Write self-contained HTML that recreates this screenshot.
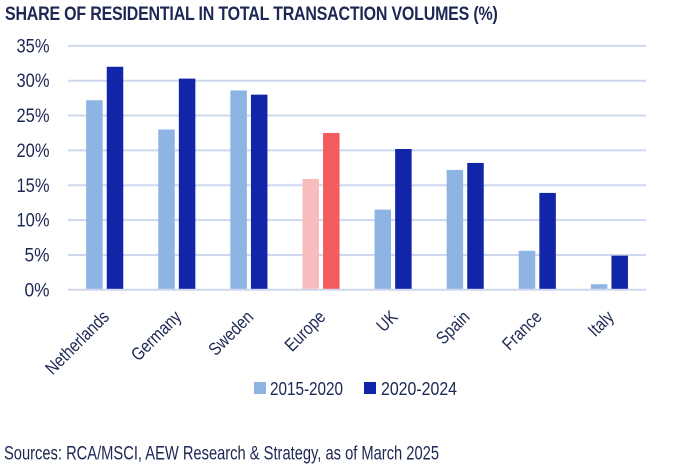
<!DOCTYPE html>
<html lang="en">
<head>
<meta charset="utf-8">
<title>Share of residential in total transaction volumes</title>
<style>
html,body{margin:0;padding:0;background:#fff;width:673px;height:474px;overflow:hidden}
svg{display:block}
text{font-family:"Liberation Sans",sans-serif;fill:#1d2753}
</style>
</head>
<body>
<svg id="chart" xmlns="http://www.w3.org/2000/svg" width="673" height="474" viewBox="0 0 673 474">
<text transform="translate(5 20) scale(0.82 1)" font-size="19.5" font-weight="700" textLength="601" lengthAdjust="spacing">SHARE OF RESIDENTIAL IN TOTAL TRANSACTION VOLUMES (%)</text>
<g id="grid"></g>
<g id="ylabels"></g>
<g id="bars"></g>
<g id="xlabels"></g>
<rect x="254" y="382" width="12" height="12" fill="#8db4e2"/>
<text x="270" y="395" font-size="18.5" textLength="73" lengthAdjust="spacingAndGlyphs">2015-2020</text>
<rect x="364" y="382" width="12" height="12" fill="#1125a8"/>
<text x="381" y="395" font-size="18.5" textLength="76" lengthAdjust="spacingAndGlyphs">2020-2024</text>
<text x="4" y="459.5" font-size="19" textLength="435" lengthAdjust="spacingAndGlyphs">Sources: RCA/MSCI, AEW Research &amp; Strategy, as of March 2025</text>
</svg>
<script>
const categories = ["Netherlands", "Germany", "Sweden", "Europe", "UK", "Spain", "France", "Italy"];
const series2015to2020 = [27.2, 23, 28.6, 15.9, 11.5, 17.2, 5.6, 0.8];
const series2020to2024 = [32, 30.3, 28, 22.5, 20.2, 18.2, 13.9, 4.9];
const yTicks = [0, 5, 10, 15, 20, 25, 30, 35];
const highlightCategory = "Europe";

const NS = "http://www.w3.org/2000/svg";
const plotLeft = 68, plotRight = 646, plotBase = 289.8, unitHeight = 6.97;
const firstCenter = 104.7, bandStep = 72.1, barWidth = 16.5, barOffset = 10.3;
const yScale = v => plotBase - v * unitHeight;
const xScale = i => firstCenter + i * bandStep;
const gridGroup = document.getElementById("grid");
const yLabelGroup = document.getElementById("ylabels");
const barGroup = document.getElementById("bars");
const xLabelGroup = document.getElementById("xlabels");

yTicks.forEach(t => {
  const line = document.createElementNS(NS, "line");
  
  
  line.setAttribute("x1", plotLeft);
  line.setAttribute("x2", plotRight);
  line.setAttribute("y1", yScale(t));
  line.setAttribute("y2", yScale(t));
  line.setAttribute("stroke", "#cfd7ee");
  line.setAttribute("stroke-width", "2");
  gridGroup.appendChild(line);

  const label = document.createElementNS(NS, "text");
  
  
  label.setAttribute("x", 49.5);
  label.setAttribute("y", yScale(t) + 6.5);
  label.setAttribute("text-anchor", "end");
  label.setAttribute("font-size", "19.5");
  label.setAttribute("textLength", t < 10 ? 25 : 33);
  label.setAttribute("lengthAdjust", "spacingAndGlyphs");
  label.textContent = t + "%";
  yLabelGroup.appendChild(label);
});

function drawBar(i, value, sign, color) {
  const bar = document.createElementNS(NS, "rect");
  
  
  bar.setAttribute("x", xScale(i) + sign * barOffset - barWidth / 2);
  bar.setAttribute("y", yScale(value));
  bar.setAttribute("width", barWidth);
  bar.setAttribute("height", plotBase - 1 - yScale(value));
  bar.setAttribute("fill", color);
  barGroup.appendChild(bar);
}

categories.forEach((name, i) => {
  const hi = name === highlightCategory;
  drawBar(i, series2015to2020[i], -1, hi ? "#f9bcbc" : "#8db4e2");
  drawBar(i, series2020to2024[i], 1, hi ? "#f35c5e" : "#1125a8");

  const label = document.createElementNS(NS, "text");
  
  
  const ax = xScale(i) + 5.5;
  const ay = 318;
  label.setAttribute("transform", "translate(" + ax + " " + ay + ") rotate(-45) scale(0.84 1)");
  label.setAttribute("text-anchor", "end");
  label.setAttribute("font-size", "18");
  label.textContent = name;
  xLabelGroup.appendChild(label);
});
</script>
</body>
</html>
